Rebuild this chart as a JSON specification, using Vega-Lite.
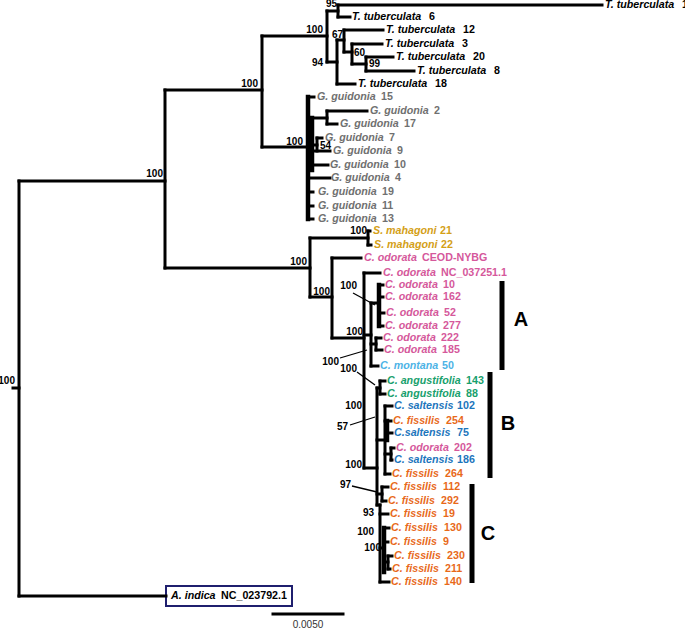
{
  "$schema": "https://vega.github.io/schema/vega-lite/v6.json",
  "width": 685,
  "height": 628,
  "autosize": {"type": "none"},
  "padding": 0,
  "background": "white",
  "config": {"view": {"stroke": null}},
  "datasets": {
    "seg": [
      {"x":262,"x2":262,"y":36,"y2":147,"kind":"branch"},
      {"x":262,"x2":327,"y":36,"y2":36,"kind":"branch"},
      {"x":327,"x2":327,"y":11,"y2":62,"kind":"branch"},
      {"x":327,"x2":338,"y":11,"y2":11,"kind":"branch"},
      {"x":338,"x2":338,"y":5,"y2":17,"kind":"branch"},
      {"x":338,"x2":602,"y":5,"y2":5,"kind":"branch"},
      {"x":338,"x2":350,"y":17,"y2":17,"kind":"branch"},
      {"x":327,"x2":337,"y":62,"y2":62,"kind":"branch"},
      {"x":337,"x2":337,"y":40,"y2":84,"kind":"branch"},
      {"x":337,"x2":355,"y":84,"y2":84,"kind":"branch"},
      {"x":337,"x2":344,"y":40,"y2":40,"kind":"branch"},
      {"x":344,"x2":344,"y":30,"y2":52,"kind":"branch"},
      {"x":344,"x2":383,"y":30,"y2":30,"kind":"branch"},
      {"x":344,"x2":352,"y":52,"y2":52,"kind":"branch"},
      {"x":352,"x2":352,"y":44,"y2":64,"kind":"branch"},
      {"x":352,"x2":382,"y":44,"y2":44,"kind":"branch"},
      {"x":352,"x2":366,"y":64,"y2":64,"kind":"branch"},
      {"x":366,"x2":366,"y":57,"y2":71,"kind":"branch"},
      {"x":366,"x2":393,"y":57,"y2":57,"kind":"branch"},
      {"x":366,"x2":414,"y":71,"y2":71,"kind":"branch"},
      {"x":262,"x2":308,"y":147,"y2":147,"kind":"branch"},
      {"x":308,"x2":308,"y":97,"y2":219,"kind":"thick"},
      {"x":308,"x2":314,"y":97,"y2":97,"kind":"branch"},
      {"x":312,"x2":312,"y":118,"y2":170,"kind":"thick"},
      {"x":312,"x2":327,"y":118,"y2":118,"kind":"branch"},
      {"x":327,"x2":327,"y":111,"y2":124,"kind":"branch"},
      {"x":327,"x2":367,"y":111,"y2":111,"kind":"branch"},
      {"x":327,"x2":337,"y":124,"y2":124,"kind":"branch"},
      {"x":312,"x2":317,"y":145,"y2":145,"kind":"branch"},
      {"x":317,"x2":317,"y":138,"y2":151,"kind":"branch"},
      {"x":317,"x2":322,"y":138,"y2":138,"kind":"branch"},
      {"x":312,"x2":330,"y":151,"y2":151,"kind":"branch"},
      {"x":312,"x2":328,"y":165,"y2":165,"kind":"branch"},
      {"x":308,"x2":330,"y":178,"y2":178,"kind":"branch"},
      {"x":308,"x2":313,"y":192,"y2":192,"kind":"branch"},
      {"x":308,"x2":313,"y":206,"y2":206,"kind":"branch"},
      {"x":308,"x2":313,"y":219,"y2":219,"kind":"branch"},
      {"x":13,"x2":19,"y":388,"y2":388,"kind":"branch"},
      {"x":19,"x2":19,"y":181,"y2":596,"kind":"branch"},
      {"x":19,"x2":166,"y":596,"y2":596,"kind":"branch"},
      {"x":19,"x2":165,"y":181,"y2":181,"kind":"branch"},
      {"x":165,"x2":165,"y":90,"y2":268,"kind":"branch"},
      {"x":165,"x2":262,"y":90,"y2":90,"kind":"branch"},
      {"x":165,"x2":310,"y":268,"y2":268,"kind":"branch"},
      {"x":310,"x2":310,"y":238,"y2":297,"kind":"branch"},
      {"x":310,"x2":368,"y":238,"y2":238,"kind":"branch"},
      {"x":368,"x2":368,"y":231,"y2":245,"kind":"branch"},
      {"x":368,"x2":370,"y":231,"y2":231,"kind":"branch"},
      {"x":368,"x2":371,"y":245,"y2":245,"kind":"branch"},
      {"x":310,"x2":332,"y":297,"y2":297,"kind":"branch"},
      {"x":332,"x2":332,"y":258,"y2":338,"kind":"branch"},
      {"x":332,"x2":361,"y":258,"y2":258,"kind":"branch"},
      {"x":332,"x2":364,"y":338,"y2":338,"kind":"branch"},
      {"x":364,"x2":364,"y":273,"y2":468,"kind":"branch"},
      {"x":364,"x2":380,"y":273,"y2":273,"kind":"branch"},
      {"x":364,"x2":371,"y":335,"y2":335,"kind":"branch"},
      {"x":371,"x2":371,"y":303,"y2":366,"kind":"branch"},
      {"x":371,"x2":379,"y":303,"y2":303,"kind":"branch"},
      {"x":379,"x2":379,"y":285,"y2":326,"kind":"thick"},
      {"x":379,"x2":383,"y":285,"y2":285,"kind":"branch"},
      {"x":379,"x2":383,"y":297,"y2":297,"kind":"branch"},
      {"x":379,"x2":384,"y":313,"y2":313,"kind":"branch"},
      {"x":379,"x2":383,"y":326,"y2":326,"kind":"branch"},
      {"x":371,"x2":376,"y":344,"y2":344,"kind":"branch"},
      {"x":376,"x2":376,"y":338,"y2":350,"kind":"branch"},
      {"x":376,"x2":381,"y":338,"y2":338,"kind":"branch"},
      {"x":376,"x2":382,"y":350,"y2":350,"kind":"branch"},
      {"x":371,"x2":378,"y":366,"y2":366,"kind":"branch"},
      {"x":364,"x2":377,"y":468,"y2":468,"kind":"branch"},
      {"x":377,"x2":377,"y":388,"y2":505,"kind":"branch"},
      {"x":377,"x2":380,"y":388,"y2":388,"kind":"branch"},
      {"x":380,"x2":380,"y":381,"y2":394,"kind":"branch"},
      {"x":380,"x2":385,"y":381,"y2":381,"kind":"branch"},
      {"x":380,"x2":385,"y":394,"y2":394,"kind":"branch"},
      {"x":377,"x2":385,"y":440,"y2":440,"kind":"branch"},
      {"x":385,"x2":385,"y":406,"y2":474,"kind":"branch"},
      {"x":385,"x2":392,"y":406,"y2":406,"kind":"branch"},
      {"x":385,"x2":391,"y":421,"y2":421,"kind":"branch"},
      {"x":387,"x2":387,"y":421,"y2":440,"kind":"thick"},
      {"x":387,"x2":392,"y":433,"y2":433,"kind":"branch"},
      {"x":385,"x2":391,"y":454,"y2":454,"kind":"branch"},
      {"x":391,"x2":391,"y":448,"y2":460,"kind":"branch"},
      {"x":391,"x2":394,"y":448,"y2":448,"kind":"branch"},
      {"x":391,"x2":392,"y":460,"y2":460,"kind":"branch"},
      {"x":385,"x2":390,"y":474,"y2":474,"kind":"branch"},
      {"x":377,"x2":382,"y":494,"y2":494,"kind":"branch"},
      {"x":382,"x2":382,"y":487,"y2":501,"kind":"branch"},
      {"x":382,"x2":388,"y":487,"y2":487,"kind":"branch"},
      {"x":382,"x2":386,"y":501,"y2":501,"kind":"branch"},
      {"x":377,"x2":380,"y":505,"y2":505,"kind":"branch"},
      {"x":380,"x2":380,"y":505,"y2":582,"kind":"branch"},
      {"x":380,"x2":388,"y":514,"y2":514,"kind":"branch"},
      {"x":380,"x2":384,"y":548,"y2":548,"kind":"branch"},
      {"x":384,"x2":384,"y":528,"y2":572,"kind":"thick"},
      {"x":384,"x2":389,"y":528,"y2":528,"kind":"branch"},
      {"x":384,"x2":388,"y":542,"y2":542,"kind":"branch"},
      {"x":384,"x2":388,"y":562,"y2":562,"kind":"branch"},
      {"x":388,"x2":388,"y":556,"y2":569,"kind":"branch"},
      {"x":388,"x2":392,"y":556,"y2":556,"kind":"branch"},
      {"x":388,"x2":390,"y":569,"y2":569,"kind":"branch"},
      {"x":380,"x2":389,"y":582,"y2":582,"kind":"branch"},
      {"x":502,"x2":502,"y":281,"y2":370,"kind":"bar"},
      {"x":490,"x2":490,"y":372,"y2":478,"kind":"bar"},
      {"x":472,"x2":472,"y":484,"y2":583,"kind":"bar"},
      {"x":273,"x2":343,"y":614,"y2":614,"kind":"branch"},
      {"x":353,"x2":375,"y":293,"y2":305,"kind":"leader"},
      {"x":340,"x2":367,"y":358,"y2":350,"kind":"leader"},
      {"x":357,"x2":375,"y":372,"y2":385,"kind":"leader"},
      {"x":350,"x2":375,"y":425,"y2":417,"kind":"leader"},
      {"x":352,"x2":377,"y":486,"y2":492,"kind":"leader"}
    ],
    "tips": [
      {"sp":"T. tuberculata","id":"1","x":605,"y":5},
      {"sp":"T. tuberculata","id":"6","x":352,"y":17},
      {"sp":"T. tuberculata","id":"12","x":386,"y":30},
      {"sp":"T. tuberculata","id":"3","x":385,"y":44},
      {"sp":"T. tuberculata","id":"20","x":396,"y":57},
      {"sp":"T. tuberculata","id":"8","x":417,"y":71},
      {"sp":"T. tuberculata","id":"18","x":358,"y":84},
      {"sp":"G. guidonia","id":"15","x":317,"y":97},
      {"sp":"G. guidonia","id":"2","x":370,"y":111},
      {"sp":"G. guidonia","id":"17","x":340,"y":124},
      {"sp":"G. guidonia","id":"7","x":325,"y":138},
      {"sp":"G. guidonia","id":"9","x":333,"y":151},
      {"sp":"G. guidonia","id":"10","x":330,"y":165},
      {"sp":"G. guidonia","id":"4","x":331,"y":178},
      {"sp":"G. guidonia","id":"19","x":318,"y":192},
      {"sp":"G. guidonia","id":"11","x":318,"y":206},
      {"sp":"G. guidonia","id":"13","x":318,"y":219},
      {"sp":"S. mahagoni","id":"21","x":373,"y":231},
      {"sp":"S. mahagoni","id":"22","x":374,"y":245},
      {"sp":"C. odorata","id":"CEOD-NYBG","x":364,"y":258},
      {"sp":"C. odorata","id":"NC_037251.1","x":383,"y":273},
      {"sp":"C. odorata","id":"10","x":385,"y":285},
      {"sp":"C. odorata","id":"162","x":385,"y":297},
      {"sp":"C. odorata","id":"52","x":386,"y":313},
      {"sp":"C. odorata","id":"277","x":385,"y":326},
      {"sp":"C. odorata","id":"222","x":383,"y":338},
      {"sp":"C. odorata","id":"185","x":384,"y":350},
      {"sp":"C. montana","id":"50","x":380,"y":366},
      {"sp":"C. angustifolia","id":"143","x":387,"y":381},
      {"sp":"C. angustifolia","id":"88","x":387,"y":394},
      {"sp":"C. saltensis","id":"102","x":394,"y":406},
      {"sp":"C. fissilis","id":"254","x":393,"y":421},
      {"sp":"C.saltensis","id":"75","x":394,"y":433},
      {"sp":"C. odorata","id":"202","x":396,"y":448},
      {"sp":"C. saltensis","id":"186","x":394,"y":460},
      {"sp":"C. fissilis","id":"264","x":392,"y":474},
      {"sp":"C. fissilis","id":"112","x":390,"y":487},
      {"sp":"C. fissilis","id":"292","x":388,"y":501},
      {"sp":"C. fissilis","id":"19","x":390,"y":514},
      {"sp":"C. fissilis","id":"130","x":391,"y":528},
      {"sp":"C. fissilis","id":"9","x":390,"y":542},
      {"sp":"C. fissilis","id":"230","x":394,"y":556},
      {"sp":"C. fissilis","id":"211","x":392,"y":569},
      {"sp":"C. fissilis","id":"140","x":391,"y":582},
      {"sp":"A. indica","id":"NC_023792.1","x":171,"y":596}
    ],
    "boot": [
      {"v":"100","x":15,"y":381},
      {"v":"100","x":163,"y":174},
      {"v":"100","x":258,"y":84},
      {"v":"100","x":323,"y":30},
      {"v":"95","x":337,"y":4},
      {"v":"94","x":323,"y":63},
      {"v":"67","x":343,"y":35},
      {"v":"60","x":365,"y":53},
      {"v":"99","x":380,"y":64},
      {"v":"100","x":303,"y":142},
      {"v":"54","x":331,"y":146},
      {"v":"100","x":367,"y":231},
      {"v":"100","x":307,"y":262},
      {"v":"100","x":330,"y":292},
      {"v":"100","x":357,"y":286},
      {"v":"100","x":363,"y":332},
      {"v":"100","x":339,"y":362},
      {"v":"100","x":357,"y":369},
      {"v":"100","x":362,"y":406},
      {"v":"57","x":348,"y":427},
      {"v":"100","x":362,"y":465},
      {"v":"97","x":351,"y":485},
      {"v":"93","x":374,"y":513},
      {"v":"100","x":374,"y":532},
      {"v":"100","x":381,"y":548}
    ],
    "clades": [
      {"t":"A","x":521,"y":320},
      {"t":"B","x":508,"y":424},
      {"t":"C","x":488,"y":534}
    ],
    "box": [{"x":166,"x2":292,"y":586,"y2":606}],
    "scalebar": [{"t":"0.0050","x":308,"y":625}]
  },
  "layer": [
    {
      "data": {"name": "box"},
      "mark": {"type": "rect", "fill": "white", "stroke": "#1f1f6e", "strokeWidth": 2},
      "encoding": {
        "x": {"field": "x", "type": "quantitative", "scale": {"domain": [0, 685], "nice": false, "zero": false}, "axis": null},
        "x2": {"field": "x2"},
        "y": {"field": "y", "type": "quantitative", "scale": {"domain": [0, 628], "nice": false, "zero": false, "reverse": true}, "axis": null},
        "y2": {"field": "y2"}
      }
    },
    {
      "data": {"name": "seg"},
      "transform": [{"filter": "datum.kind == 'branch'"}],
      "mark": {"type": "rule", "color": "black", "strokeCap": "square", "strokeWidth": 3},
      "encoding": {
        "x": {"field": "x", "type": "quantitative", "scale": {"domain": [0, 685], "nice": false, "zero": false}, "axis": null},
        "x2": {"field": "x2"},
        "y": {"field": "y", "type": "quantitative", "scale": {"domain": [0, 628], "nice": false, "zero": false, "reverse": true}, "axis": null},
        "y2": {"field": "y2"}
      }
    },
    {
      "data": {"name": "seg"},
      "transform": [{"filter": "datum.kind == 'thick'"}],
      "mark": {"type": "rule", "color": "black", "strokeCap": "square", "strokeWidth": 4.5},
      "encoding": {
        "x": {"field": "x", "type": "quantitative", "scale": {"domain": [0, 685], "nice": false, "zero": false}, "axis": null},
        "x2": {"field": "x2"},
        "y": {"field": "y", "type": "quantitative", "scale": {"domain": [0, 628], "nice": false, "zero": false, "reverse": true}, "axis": null},
        "y2": {"field": "y2"}
      }
    },
    {
      "data": {"name": "seg"},
      "transform": [{"filter": "datum.kind == 'bar'"}],
      "mark": {"type": "rule", "color": "black", "strokeCap": "butt", "strokeWidth": 5},
      "encoding": {
        "x": {"field": "x", "type": "quantitative", "scale": {"domain": [0, 685], "nice": false, "zero": false}, "axis": null},
        "x2": {"field": "x2"},
        "y": {"field": "y", "type": "quantitative", "scale": {"domain": [0, 628], "nice": false, "zero": false, "reverse": true}, "axis": null},
        "y2": {"field": "y2"}
      }
    },
    {
      "data": {"name": "seg"},
      "transform": [{"filter": "datum.kind == 'leader'"}],
      "mark": {"type": "rule", "color": "black", "strokeCap": "butt", "strokeWidth": 1.3},
      "encoding": {
        "x": {"field": "x", "type": "quantitative", "scale": {"domain": [0, 685], "nice": false, "zero": false}, "axis": null},
        "x2": {"field": "x2"},
        "y": {"field": "y", "type": "quantitative", "scale": {"domain": [0, 628], "nice": false, "zero": false, "reverse": true}, "axis": null},
        "y2": {"field": "y2"}
      }
    },
    {
      "data": {"name": "tips"},
      "mark": {"type": "text", "align": "left", "baseline": "middle", "font": "Liberation Sans", "fontSize": 10.7, "fontWeight": "bold", "fontStyle": "italic"},
      "encoding": {
        "x": {"field": "x", "type": "quantitative", "scale": {"domain": [0, 685], "nice": false, "zero": false}, "axis": null},
        "y": {"field": "y", "type": "quantitative", "scale": {"domain": [0, 628], "nice": false, "zero": false, "reverse": true}, "axis": null},
        "text": {"field": "sp"},
        "color": {"field": "sp", "type": "nominal", "legend": null,
          "scale": {"domain": ["T. tuberculata", "G. guidonia", "S. mahagoni", "C. odorata", "C. montana", "C. angustifolia", "C. saltensis", "C.saltensis", "C. fissilis", "A. indica"],
                    "range": ["#000000", "#707070", "#d4a017", "#d5589b", "#4db3e6", "#17a06c", "#1c75bc", "#1c75bc", "#e8691a", "#000000"]}}
      }
    },
    {
      "data": {"name": "tips"},
      "transform": [
        {"calculate": "datum.sp == 'T. tuberculata' ? 77 : datum.sp == 'G. guidonia' ? 64 : datum.sp == 'S. mahagoni' ? 67 : datum.sp == 'C. odorata' ? 58 : datum.sp == 'C. montana' ? 62 : datum.sp == 'C. angustifolia' ? 79 : datum.sp == 'C. saltensis' ? 63 : datum.sp == 'C.saltensis' ? 63 : datum.sp == 'C. fissilis' ? 53 : 50", "as": "off"},
        {"calculate": "datum.x + datum.off", "as": "xn"}
      ],
      "mark": {"type": "text", "align": "left", "baseline": "middle", "font": "Liberation Sans", "fontSize": 10.7, "fontWeight": "bold"},
      "encoding": {
        "x": {"field": "xn", "type": "quantitative", "scale": {"domain": [0, 685], "nice": false, "zero": false}, "axis": null},
        "y": {"field": "y", "type": "quantitative", "scale": {"domain": [0, 628], "nice": false, "zero": false, "reverse": true}, "axis": null},
        "text": {"field": "id"},
        "color": {"field": "sp", "type": "nominal", "legend": null}
      }
    },
    {
      "data": {"name": "boot"},
      "mark": {"type": "text", "align": "right", "baseline": "middle", "font": "Liberation Sans", "fontSize": 10, "fontWeight": "bold", "color": "black"},
      "encoding": {
        "x": {"field": "x", "type": "quantitative", "scale": {"domain": [0, 685], "nice": false, "zero": false}, "axis": null},
        "y": {"field": "y", "type": "quantitative", "scale": {"domain": [0, 628], "nice": false, "zero": false, "reverse": true}, "axis": null},
        "text": {"field": "v"}
      }
    },
    {
      "data": {"name": "clades"},
      "mark": {"type": "text", "align": "center", "baseline": "middle", "font": "Liberation Sans", "fontSize": 20, "fontWeight": "bold", "color": "black"},
      "encoding": {
        "x": {"field": "x", "type": "quantitative", "scale": {"domain": [0, 685], "nice": false, "zero": false}, "axis": null},
        "y": {"field": "y", "type": "quantitative", "scale": {"domain": [0, 628], "nice": false, "zero": false, "reverse": true}, "axis": null},
        "text": {"field": "t"}
      }
    },
    {
      "data": {"name": "scalebar"},
      "mark": {"type": "text", "align": "center", "baseline": "middle", "font": "Liberation Sans", "fontSize": 10, "color": "#333333"},
      "encoding": {
        "x": {"field": "x", "type": "quantitative", "scale": {"domain": [0, 685], "nice": false, "zero": false}, "axis": null},
        "y": {"field": "y", "type": "quantitative", "scale": {"domain": [0, 628], "nice": false, "zero": false, "reverse": true}, "axis": null},
        "text": {"field": "t"}
      }
    }
  ]
}
